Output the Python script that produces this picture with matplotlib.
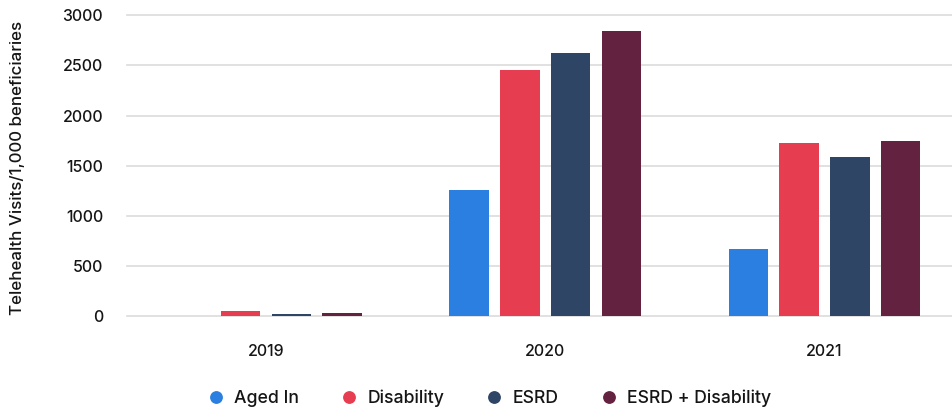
import matplotlib
matplotlib.use("Agg")
import matplotlib.pyplot as plt
from matplotlib.lines import Line2D
import numpy as np

plt.rcParams['font.family'] = ['Inter', 'DejaVu Sans']

years = ["2019", "2020", "2021"]
series = ["Aged In", "Disability", "ESRD", "ESRD + Disability"]
aged_in = [13, 1256, 674]
disability = [53, 2455, 1724]
esrd = [23, 2628, 1591]
esrd_dis = [33, 2841, 1748]
values = [aged_in, disability, esrd, esrd_dis]
colors = ["#2B7FE0", "#E63D51", "#2E4566", "#632340"]
faded_color = "#DDE1E8"
yticks = [0, 500, 1000, 1500, 2000, 2500, 3000]

W, H = 953, 408
fig = plt.figure(figsize=(W / 100, H / 100), dpi=100)
left_px, right_px, top_px, bot_px = 126.7, 953, 15.3, 316.3
ax = fig.add_axes([left_px / W, 1 - bot_px / H, (right_px - left_px) / W, (bot_px - top_px) / H])

group_step = 279.25
center0 = 266.0
x = np.arange(len(years))
bar_w = 39.5 / group_step
step = 50.7 / group_step
offsets = (np.arange(4) - 1.5) * step

for i, (vals, c) in enumerate(zip(values, colors)):
    cols = [c] * len(vals)
    if i == 0:
        cols[0] = faded_color
    ax.bar(x + offsets[i], vals, width=bar_w, color=cols, zorder=3, linewidth=0)

ax.set_xlim((left_px - center0) / group_step, (right_px - center0) / group_step)
ax.set_ylim(0, 3000)
for t in yticks:
    ax.axhline(t, color="#DCDCDC", linewidth=1.2, zorder=1, clip_on=False)

txt = "#151515"
ax.set_yticks(yticks)
ax.set_yticklabels([str(t) for t in yticks])
ax.set_xticks(x)
ax.set_xticklabels(years)
ax.tick_params(axis='y', length=0, pad=17, labelsize=11.5, labelcolor=txt)
ax.tick_params(axis='x', length=0, pad=20, labelsize=11.5, labelcolor=txt)
for lab in ax.get_yticklabels() + ax.get_xticklabels():
    lab.set_fontweight(500)
for s in ax.spines.values():
    s.set_visible(False)

fig.text(18 / W, 1 - 168 / H, "Telehealth Visits/1,000 beneficiaries", rotation=90,
         ha='center', va='center', fontsize=12.2, fontweight=500, color=txt)

handles = [Line2D([0], [0], marker='o', linestyle='none', markersize=8.2,
                  markerfacecolor=c, markeredgecolor=c) for c in colors]
leg = fig.legend(handles, series, loc='center', bbox_to_anchor=(490 / W, 1 - 398 / H),
                 ncol=4, frameon=False, handletextpad=0.62, columnspacing=2.44,
                 handlelength=0.8, prop={'weight': 500, 'size': 12.7})
for t in leg.get_texts():
    t.set_color(txt)

fig.savefig("out.png", dpi=100)
